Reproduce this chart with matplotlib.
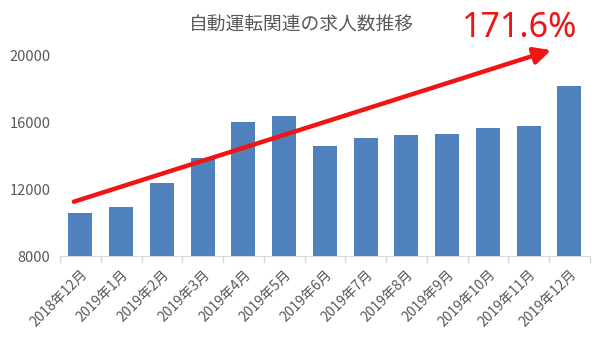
import matplotlib.pyplot as plt
import numpy as np

plt.rcParams['font.family'] = ['Noto Sans CJK JP', 'DejaVu Sans']

months = ['2018年12月', '2019年1月', '2019年2月', '2019年3月', '2019年4月',
          '2019年5月', '2019年6月', '2019年7月', '2019年8月', '2019年9月',
          '2019年10月', '2019年11月', '2019年12月']
jobs = [10600, 10960, 12400, 13880, 16020, 16400, 14620,
        15060, 15260, 15320, 15700, 15820, 18190]
growth_label = '171.6%'
y_ticks = [8000, 12000, 16000, 20000]

# trend arrow, in (category index, value)
arrow_start = (-0.16, 11260)
arrow_end = (11.55, 20350)

fig = plt.figure(figsize=(6, 3.41), dpi=100)
ax = fig.add_axes([0.1, 0.249, 0.883, 0.587])

x = np.arange(len(months))
ax.bar(x, jobs, width=0.59, color='#4f81bd', zorder=2)

ax.set_xlim(-0.5, len(months) - 0.5)
ax.set_ylim(8000, 20000)
ax.set_yticks(y_ticks)
ax.tick_params(axis='y', length=0, labelsize=10.5, labelcolor='#595959', pad=7)

ax.set_xticks(x)
ax.set_xticklabels(months, rotation=45, ha='right', rotation_mode='anchor',
                   fontsize=10, color='#595959')
ax.tick_params(axis='x', which='major', length=0, pad=8)
ax.set_xticks(np.arange(len(months) + 1) - 0.5, minor=True)
ax.tick_params(axis='x', which='minor', length=5, color='#d9d9d9', width=1)

for side in ['top', 'right', 'left']:
    ax.spines[side].set_visible(False)
ax.spines['bottom'].set_color('#d9d9d9')

fig.text(0.503, 0.925, '自動運転関連の求人数推移', ha='center', va='center',
         fontsize=13.5, color='#595959')

ax.annotate('', xy=arrow_end, xytext=arrow_start, annotation_clip=False,
            arrowprops=dict(arrowstyle='-|>,head_length=1.0,head_width=0.5',
                            color='#f01414', lw=3.2, shrinkA=0, shrinkB=0),
            zorder=5)

fig.text(0.866, 0.918, growth_label, ha='center', va='center',
         fontsize=24.5, color='#f01414', family=['Noto Sans', 'DejaVu Sans'])

fig.savefig('out.png', dpi=100)
